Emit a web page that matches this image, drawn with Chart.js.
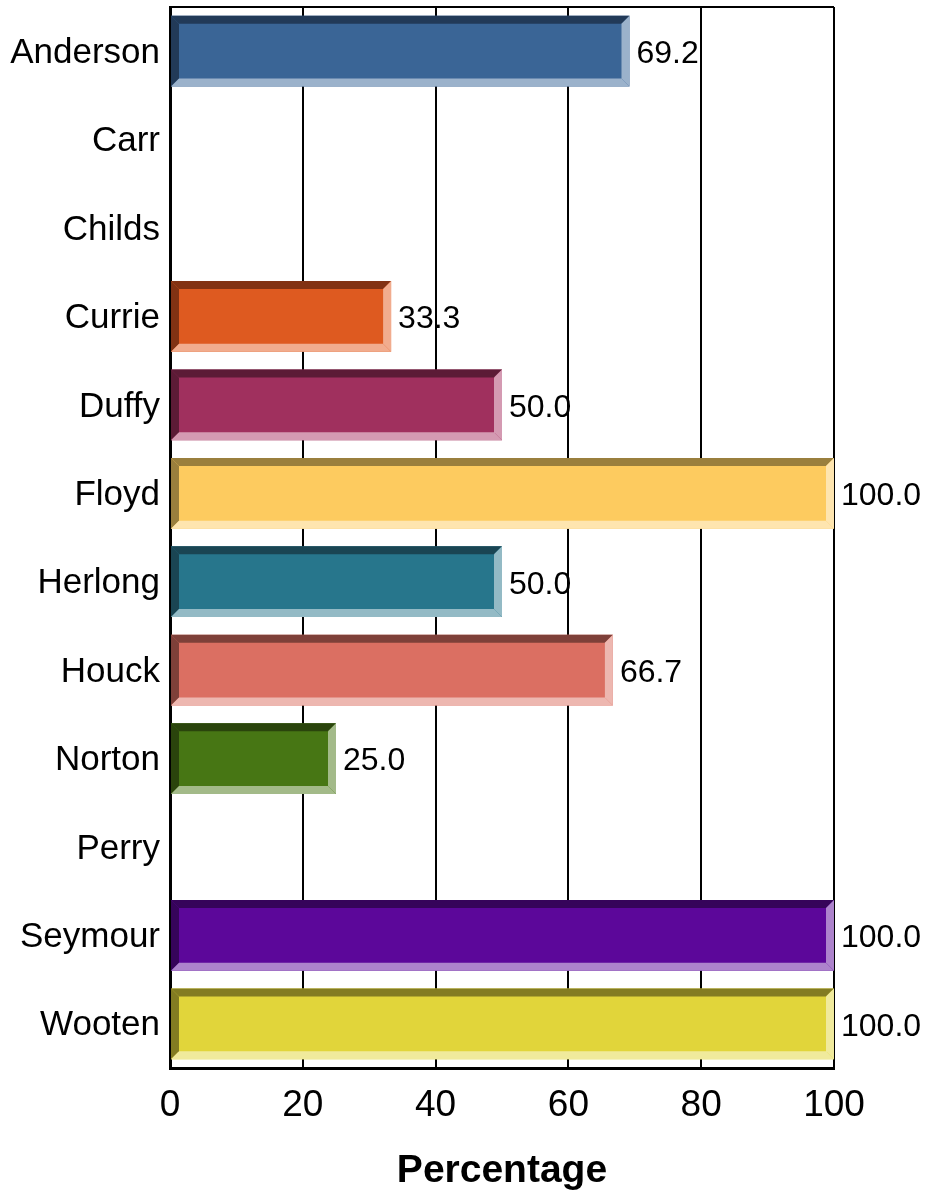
<!DOCTYPE html>
<html>
<head>
<meta charset="utf-8">
<script src="https://cdn.jsdelivr.net/npm/chart.js@4/dist/chart.umd.min.js"></script>
<style>
body { margin: 0; background: #fff; }
#wrap { width: 927px; height: 1193px; }
</style>
</head>
<body>
<div id="wrap"><canvas id="myChart" width="927" height="1193"></canvas></div>
<script>
// names and percentages
const names = ['Anderson','Carr','Childs','Currie','Duffy','Floyd','Herlong','Houck','Norton','Perry','Seymour','Wooten']
const pct = [69.2, 0, 0, 33.3, 50.0, 100.0, 50.0, 66.7, 25.0, 0, 100.0, 100.0]
const xTicks = [0, 20, 40, 60, 80, 100]

// face / shadow / highlight colour for each bar
const faceCol  = ['#3a6596','#3a6596','#3a6596','#de5a20','#a0305e','#fdcb5f','#27768c','#db6f62','#477614','#477614','#5c079a','#e1d53a']
const darkCol  = ['#223a58','#223a58','#223a58','#823213','#5c1b36','#9a7f3d','#1a4553','#7e4039','#2a440c','#2a440c','#36045a','#837c22']
const lightCol = ['#9bb2cb','#9bb2cb','#9bb2cb','#f1ac8e','#d49ab2','#fee5af','#93bac5','#edb7b0','#a3ba89','#a3ba89','#ad83cc','#f0ea9c']

const FONT = '"Liberation Sans", Arial, Helvetica, sans-serif'
var bev = 8

// bevel edges + value labels drawn on top of the bars chart.js made
var bevelPlugin = {
    id: 'bevel',
    afterDatasetsDraw: function(chart){
        var ctx = chart.ctx
        var meta = chart.getDatasetMeta(0)
        meta.data.forEach(function(bar, i){
            if (!pct[i]) return
            var p = bar.getProps(['x','y','base','height'], true)
            var L = Math.min(p.base, p.x), R = Math.max(p.base, p.x)
            var T = p.y - p.height/2, B = p.y + p.height/2
            var w = bev
            ctx.save()
            ctx.fillStyle = darkCol[i]
            ctx.beginPath()
            ctx.moveTo(L,T); ctx.lineTo(R,T); ctx.lineTo(R-w,T+w); ctx.lineTo(L+w,T+w); ctx.closePath()
            ctx.fill()
            ctx.beginPath()
            ctx.moveTo(L,T); ctx.lineTo(L+w,T+w); ctx.lineTo(L+w,B-w); ctx.lineTo(L,B); ctx.closePath()
            ctx.fill()
            ctx.fillStyle = lightCol[i]
            ctx.beginPath()
            ctx.moveTo(L,B); ctx.lineTo(L+w,B-w); ctx.lineTo(R-w,B-w); ctx.lineTo(R,B); ctx.closePath()
            ctx.fill()
            ctx.beginPath()
            ctx.moveTo(R,T); ctx.lineTo(R,B); ctx.lineTo(R-w,B-w); ctx.lineTo(R-w,T+w); ctx.closePath()
            ctx.fill()
            // value
            ctx.fillStyle = '#000'
            ctx.font = '32px ' + FONT
            ctx.textAlign = 'left'
            ctx.textBaseline = 'middle'
            ctx.fillText(pct[i].toFixed(1), R + 7, p.y + 3)
            ctx.restore()
        })
    },
    afterDraw: function(chart){
        // top frame line
        var a = chart.chartArea, ctx = chart.ctx
        ctx.save()
        ctx.strokeStyle = '#000'
        ctx.lineWidth = 2
        ctx.beginPath()
        ctx.moveTo(a.left, a.top)
        ctx.lineTo(a.right, a.top)
        ctx.stroke()
        ctx.restore()
    }
}

const myChart = new Chart(document.getElementById('myChart'), {
    type: 'bar',
    data: {
        labels: names,
        datasets: [{
            data: pct,
            backgroundColor: faceCol,
            borderWidth: 0,
            barPercentage: 0.8,
            categoryPercentage: 1.0
        }]
    },
    options: {
        indexAxis: 'y',
        responsive: false,
        animation: false,
        layout: { padding: { top: 7, right: 93, left: 0, bottom: 0 } },
        plugins: { legend: { display: false }, tooltip: { enabled: false } },
        scales: {
            x: {
                min: 0, max: 100,
                afterBuildTicks: function(s){ s.ticks = xTicks.map(function(v){ return {value: v} }) },
                afterFit: function(s){ s.height = 125 },
                grid: { color: '#000', lineWidth: 2, drawTicks: false },
                border: { color: '#000', width: 3 },
                ticks: { color: '#000', padding: 16, font: { family: FONT, size: 37 } },
                title: { display: true, text: 'Percentage', color: '#000',
                         font: { family: FONT, size: 39, weight: 'bold' }, padding: { top: 8, bottom: -2 } }
            },
            y: {
                afterFit: function(s){ s.width = 170; s.paddingTop = 0; s.paddingBottom = 0 },
                grid: { display: false, drawTicks: false },
                border: { color: '#000', width: 3 },
                ticks: { color: '#000', padding: 10, labelOffset: 2, font: { family: FONT, size: 35 } }
            }
        }
    },
    plugins: [bevelPlugin]
});
</script>
</body>
</html>
